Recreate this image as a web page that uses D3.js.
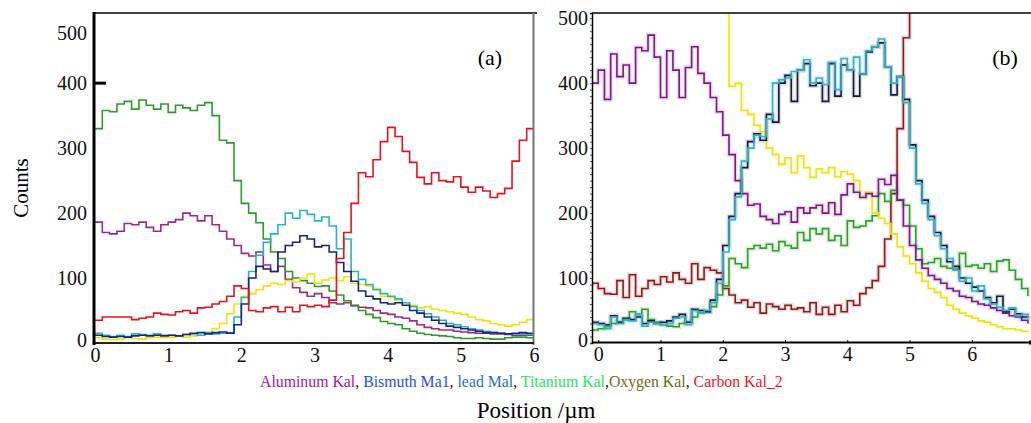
<!DOCTYPE html>
<html>
<head>
<meta charset="utf-8">
<script src="https://cdn.jsdelivr.net/npm/d3@7"></script>
<style>
    body { margin: 0; background: #fff; }
    svg { display: block; font-family: "Liberation Serif", "Times New Roman", serif; }
</style>
</head>
<body>
<div id="chart"></div>
<script>
/* * * * * * * * * * * * * * * *
 *   EDS line scans (a) / (b)  *
 * * * * * * * * * * * * * * * */

// panel (a): bins every 0.1 um from 0 to 6
const aPos = d3.range(61).map(i => +(i * 0.1).toFixed(1));
const aGreen = [330,358,356,368,372,360,374,366,360,368,355,366,362,358,366,370,350,312,308,250,
    215,200,185,160,140,130,110,100,96,92,87,88,80,74,65,57,50,44,39,33,
    30,28,22,18,15,13,12,11,10,8,7,7,8,7,6,6,8,9,9,8,8];
const aPurple = [186,170,168,172,184,182,186,178,172,182,186,190,200,196,188,196,182,172,160,150,
    138,134,140,120,110,118,98,85,78,72,76,70,62,60,62,58,55,54,50,46,
    44,40,38,34,28,24,22,20,20,18,17,16,15,15,14,14,13,12,12,12,12];
const aRed = [35,40,40,40,40,36,38,40,46,44,43,48,50,46,54,55,60,64,72,88,
    84,50,48,54,56,48,55,48,58,56,58,56,66,130,170,215,262,256,282,310,
    332,318,295,278,255,245,262,250,248,256,240,232,240,234,224,230,238,280,312,330,380];
const aCyan = [15,12,10,12,10,14,13,12,14,12,12,11,13,14,12,16,14,15,16,40,
    70,110,135,155,168,182,200,192,204,198,188,194,180,145,160,110,98,90,82,76,
    72,68,62,56,50,45,40,35,30,28,25,22,20,18,16,15,14,14,14,13,13];
const aNavy = [12,10,9,10,9,11,12,11,12,11,12,11,13,15,16,14,16,17,15,28,
    60,100,118,114,110,140,150,155,165,160,148,150,140,124,110,95,80,72,68,62,
    60,62,58,50,46,40,35,30,26,24,22,20,18,16,16,15,14,15,16,15,15];
const aYellow = [8,6,5,6,8,7,6,8,9,8,9,10,9,11,12,16,22,30,45,60,
    72,76,82,88,92,90,96,94,100,106,92,97,100,96,102,92,90,88,84,72,
    70,66,62,58,54,56,52,50,48,46,44,40,36,34,30,28,26,28,32,36,38];

// panel (b): bins every 0.1 um from -0.1 to 6.9
const bPos = d3.range(71).map(i => +(-0.1 + i * 0.1).toFixed(1));
const bPurple = [400,420,375,445,410,428,400,455,450,474,440,378,450,420,378,424,456,415,400,378,
    356,320,290,250,230,212,214,195,190,184,198,202,186,208,200,208,212,200,216,198,
    228,245,232,224,230,226,252,244,258,220,180,150,128,115,104,98,92,84,80,72,
    70,64,60,58,54,50,46,42,40,35,30];
const bYellow = [null,null,null,null,null,null,null,null,null,null,null,null,null,null,null,null,null,null,null,null,
    null,600,395,400,358,352,335,325,300,290,275,285,262,288,270,255,268,262,270,256,
    264,260,250,226,232,200,192,184,168,148,134,122,108,95,84,78,70,58,52,46,
    42,38,34,32,28,25,22,22,20,18,17];
const bCyan = [30,28,22,40,30,36,34,44,26,32,30,28,30,38,40,28,50,46,50,62,
    92,140,190,225,280,300,320,318,345,400,405,408,418,420,436,400,408,398,432,390,
    438,420,440,414,450,456,468,425,400,410,370,300,245,215,190,165,145,130,112,95,
    100,80,88,68,60,55,50,54,42,44,38];
const bNavy = [32,30,28,42,32,38,36,40,30,34,30,32,34,40,44,32,52,50,48,66,
    98,150,195,230,270,310,322,312,352,340,400,412,372,420,430,396,400,372,430,380,
    428,420,380,414,448,456,462,425,382,410,375,305,250,220,195,170,150,125,118,100,
    92,86,80,70,62,72,48,52,45,40,42];
const bGreen = [20,22,25,30,32,36,48,44,52,36,32,28,26,25,30,32,40,46,48,56,
    74,88,130,122,116,145,150,146,152,142,156,150,146,170,158,176,168,176,158,165,
    150,188,178,180,188,196,230,218,235,220,212,180,145,122,124,130,118,115,114,138,
    118,120,115,122,110,126,128,112,98,84,72];
const bDarkRed = [92,84,76,75,96,70,105,72,84,96,90,102,94,108,98,92,122,98,116,112,
    108,84,74,62,66,55,62,46,60,56,52,58,52,54,48,62,44,55,44,58,
    48,65,58,76,85,96,118,160,230,330,470,700,null,null,null,null,null,null,null,null,
    null,null,null,null,null,null,null,null,null,null,null];

const yTicks = [0, 100, 200, 300, 400, 500];
const aXTicks = [0, 1, 2, 3, 4, 5, 6];
const bXTicks = [0, 1, 2, 3, 4, 5, 6];

const legendNames = ['Aluminum Kal', 'Bismuth Ma1', 'lead Mal', 'Titanium Kal', 'Oxygen Kal', 'Carbon Kal_2'];
const legendColors = ['#a4189f', '#1f4ff0', '#1c73b0', '#22e85a', '#6f6a12', '#f0141a'];
const legendSeps = [', ', ', ', ', ', ',', ', ', ''];


const svg = d3.select('#chart')
    .append('svg')
    .attr('width', 1031)
    .attr('height', 423);

const defs = svg.append('defs');
const fmt = d3.format('d');

function stepLine(x, y) {
    return d3.line()
        .defined(d => d[1] != null)
        .x(d => x(d[0]))
        .y(d => y(d[1]))
        .curve(d3.curveStepAfter);
}

function styleTicks(g) {
    g.select('.domain').remove();
    g.selectAll('text')
        .attr('font-size', 20)
        .attr('font-family', '"Liberation Serif", serif')
        .attr('fill', '#111');
}

// ---------- panel (a) ----------
const xA = d3.scaleLinear().domain([0, 6]).range([95, 534]);
const yA = d3.scaleLinear().domain([0, 508]).range([343, 13]);

defs.append('clipPath').attr('id', 'clipA')
    .append('rect')
    .attr('x', xA(0)).attr('y', yA(508))
    .attr('width', 533 - xA(0)).attr('height', yA(0) - yA(508));

const gA = svg.append('g');
const lineA = stepLine(xA, yA);

const seriesA = [
    { vals: aPurple, color: '#9c2a86' },
    { vals: aGreen, color: '#2e9a2a' },
    { vals: aYellow, color: '#f2e310' },
    { vals: aCyan, color: '#2cb3c2' },
    { vals: aNavy, color: '#1b2578' },
    { vals: aRed, color: '#e8121c' }
];

gA.append('g')
    .attr('clip-path', 'url(#clipA)')
    .selectAll('path')
    .data(seriesA)
    .enter()
    .append('path')
    .attr('d', s => lineA(aPos.map((p, i) => [p, s.vals[i]])))
    .attr('fill', 'none')
    .attr('stroke', s => s.color)
    .attr('stroke-width', 1.6);

// frame
gA.append('line').attr('x1', 94).attr('x2', 537).attr('y1', 13).attr('y2', 13)
    .attr('stroke', '#000').attr('stroke-width', 1.5);
gA.append('line').attr('x1', 533.5).attr('x2', 533.5).attr('y1', 13).attr('y2', 345)
    .attr('stroke', '#777').attr('stroke-width', 2);
gA.append('line').attr('x1', 94).attr('x2', 534).attr('y1', yA(0)).attr('y2', yA(0))
    .attr('stroke', '#222').attr('stroke-width', 2);
gA.append('line').attr('x1', 94).attr('x2', 94).attr('y1', 12).attr('y2', 345)
    .attr('stroke', '#000').attr('stroke-width', 3);
gA.append('line').attr('x1', 94).attr('x2', 106).attr('y1', yA(400)).attr('y2', yA(400))
    .attr('stroke', '#000').attr('stroke-width', 3);

// axes
const gyA = gA.append('g')
    .attr('transform', 'translate(91,0)')
    .call(d3.axisLeft(yA).tickValues(yTicks).tickFormat(fmt).tickSize(0).tickPadding(4));
styleTicks(gyA);
gyA.selectAll('text')
    .attr('dy', d => d === 500 ? '1.05em' : (d === 0 ? '0.15em' : '0.32em'));

const gxA = gA.append('g')
    .attr('transform', `translate(0,${yA(0)})`)
    .call(d3.axisBottom(xA).tickValues(aXTicks).tickFormat(fmt).tickSize(0).tickPadding(5));
styleTicks(gxA);

gA.append('text')
    .attr('x', 490).attr('y', 65)
    .attr('text-anchor', 'middle')
    .attr('font-size', 22)
    .text('(a)');

// ---------- panel (b) ----------
const xB = d3.scaleLinear().domain([-0.1, 6.95]).range([592, 1031]);
const yB = d3.scaleLinear().domain([0, 508]).range([343, 13]);

defs.append('clipPath').attr('id', 'clipB')
    .append('rect')
    .attr('x', xB(-0.1)).attr('y', yB(508))
    .attr('width', 1031 - xB(-0.1)).attr('height', yB(0) - yB(508));

const gB = svg.append('g');
const lineB = stepLine(xB, yB);

const seriesB = [
    { vals: bDarkRed, color: '#8e1c1c' },
    { vals: bGreen, color: '#2fa02a' },
    { vals: bYellow, color: '#ece21c' },
    { vals: bPurple, color: '#7c1a84' },
    { vals: bNavy, color: '#16183e' },
    { vals: bCyan, color: '#2eb2ca' }
];

const plotB = gB.append('g').attr('clip-path', 'url(#clipB)');

// soft halo under each trace
plotB.selectAll('path.halo')
    .data(seriesB)
    .enter()
    .append('path')
    .attr('class', 'halo')
    .attr('d', s => lineB(bPos.map((p, i) => [p, s.vals[i]])))
    .attr('fill', 'none')
    .attr('stroke', s => s.color)
    .attr('stroke-opacity', 0.15)
    .attr('stroke-width', 4.5);

plotB.selectAll('path.trace')
    .data(seriesB)
    .enter()
    .append('path')
    .attr('class', 'trace')
    .attr('d', s => lineB(bPos.map((p, i) => [p, s.vals[i]])))
    .attr('fill', 'none')
    .attr('stroke', s => s.color)
    .attr('stroke-width', 1.6);

// frame
gB.append('line').attr('x1', 592).attr('x2', 1031).attr('y1', 13).attr('y2', 13)
    .attr('stroke', '#000').attr('stroke-width', 1.5);
gB.append('line').attr('x1', 592).attr('x2', 1031).attr('y1', 342.5).attr('y2', 342.5)
    .attr('stroke', '#000').attr('stroke-width', 1.8);
gB.append('line').attr('x1', 1029).attr('x2', 1031).attr('y1', 342.5).attr('y2', 342.5)
    .attr('stroke', '#000').attr('stroke-width', 4);

const gyB = gB.append('g')
    .attr('transform', 'translate(592,0)')
    .call(d3.axisLeft(yB).tickValues(d3.range(0, 510, 10)).tickSize(2).tickFormat(''));
gyB.select('.domain').attr('stroke', '#000').attr('stroke-width', 1.5);
gyB.selectAll('.tick line').attr('stroke', '#444');

const gyBl = gB.append('g')
    .attr('transform', 'translate(590,0)')
    .call(d3.axisLeft(yB).tickValues(yTicks).tickFormat(fmt).tickSize(0).tickPadding(2));
styleTicks(gyBl);
gyBl.selectAll('text')
    .attr('dy', d => d === 0 ? '0.15em' : '0.32em');

const gxB = gB.append('g')
    .attr('transform', 'translate(0,342)')
    .call(d3.axisTop(xB).tickValues(bXTicks).tickSize(2).tickFormat(''));
gxB.select('.domain').remove();
gxB.selectAll('.tick line').attr('stroke', '#000');

const gxBl = gB.append('g')
    .attr('transform', 'translate(0,342)')
    .call(d3.axisBottom(xB).tickValues(bXTicks).tickFormat(fmt).tickSize(0).tickPadding(5));
styleTicks(gxBl);

gB.append('text')
    .attr('x', 1005).attr('y', 65)
    .attr('text-anchor', 'middle')
    .attr('font-size', 22)
    .text('(b)');

// ---------- shared labels ----------
svg.append('text')
    .attr('transform', 'translate(28,188) rotate(-90)')
    .attr('text-anchor', 'middle')
    .attr('font-size', 21)
    .text('Counts');

svg.append('text')
    .attr('x', 536).attr('y', 418)
    .attr('text-anchor', 'middle')
    .attr('font-size', 23)
    .text('Position /\u00b5m');

const legend = svg.append('text')
    .attr('x', 260).attr('y', 387)
    .attr('font-size', 15.8);

legendNames.forEach((n, i) => {
    legend.append('tspan').attr('fill', legendColors[i]).text(n);
    if (legendSeps[i]) legend.append('tspan').attr('fill', '#111').text(legendSeps[i]);
});
</script>
</body>
</html>
